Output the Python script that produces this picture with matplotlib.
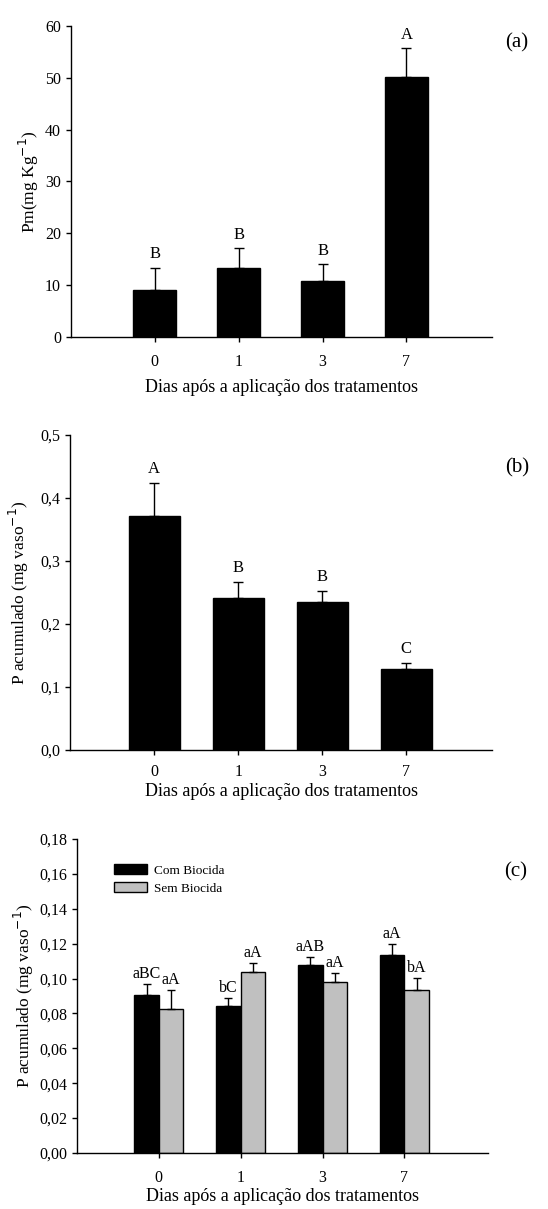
import matplotlib
matplotlib.use("Agg")
import matplotlib.pyplot as plt
import numpy as np

plt.rcParams['font.family'] = ['Liberation Serif', 'DejaVu Serif']

dias = ['0', '1', '3', '7']

# (a) Pm
pm = [9.0, 13.4, 10.8, 50.1]
pm_err = [4.4, 3.7, 3.3, 5.6]
pm_let = ['B', 'B', 'B', 'A']

# (b) P acumulado
pac = [0.372, 0.241, 0.235, 0.129]
pac_err = [0.052, 0.025, 0.017, 0.009]
pac_let = ['A', 'B', 'B', 'C']

# (c) com / sem biocida
com = [0.0904, 0.0841, 0.1080, 0.1137]
com_err = [0.0067, 0.0048, 0.0042, 0.0061]
com_let = ['aBC', 'bC', 'aAB', 'aA']
sem = [0.0827, 0.1036, 0.0978, 0.0936]
sem_err = [0.0109, 0.0053, 0.0054, 0.0067]
sem_let = ['aA', 'aA', 'aA', 'bA']

xlab = 'Dias após a aplicação dos tratamentos'
fs = 11.5

fig = plt.figure(figsize=(5.48, 12.09), dpi=100)
ax1 = fig.add_axes([0.129, 0.7213, 0.769, 0.2572])
ax2 = fig.add_axes([0.128, 0.3797, 0.770, 0.2605])
ax3 = fig.add_axes([0.1405, 0.0463, 0.750, 0.2597])

x = np.arange(len(dias))


def style(ax, xpad, lpad, ylx):
    for s in ['top', 'right']:
        ax.spines[s].set_visible(False)
    ax.spines['left'].set_linewidth(1.0)
    ax.spines['bottom'].set_linewidth(1.0)
    ax.tick_params(direction='out', length=3.5, width=1, labelsize=fs)
    ax.tick_params(axis='x', pad=xpad)
    ax.set_xticks(x)
    ax.set_xticklabels(dias)
    ax.set_xlim(-1, 4.02)
    ax.set_xlabel(xlab, fontsize=13, labelpad=lpad)
    ax.yaxis.set_label_coords(ylx, 0.5)


# panel a
ax1.bar(x, pm, 0.52, color='black', edgecolor='black',
        yerr=[np.zeros(4), pm_err], capsize=3.5, error_kw=dict(elinewidth=1, capthick=1))
for i in range(4):
    ax1.text(x[i], pm[i] + pm_err[i] + 1.0, pm_let[i], ha='center', va='bottom', fontsize=12)
ax1.set_ylim(0, 60)
ax1.set_yticks(np.arange(0, 61, 10))
ax1.set_ylabel('Pm(mg Kg$^{-1}$)', fontsize=12.5)
style(ax1, 9, 6, -0.071)
ax1.text(1.03, 0.93, '(a)', transform=ax1.transAxes, fontsize=15)

# panel b
ax2.bar(x, pac, 0.61, color='black', edgecolor='black',
        yerr=[np.zeros(4), pac_err], capsize=3.5, error_kw=dict(elinewidth=1, capthick=1))
for i in range(4):
    ax2.text(x[i], pac[i] + pac_err[i] + 0.01, pac_let[i], ha='center', va='bottom', fontsize=12)
ax2.set_ylim(0, 0.5)
ax2.set_yticks(np.arange(0, 0.51, 0.1))
ax2.set_yticklabels([('%.1f' % v).replace('.', ',') for v in np.arange(0, 0.51, 0.1)])
ax2.set_ylabel('P acumulado (mg vaso$^{-1}$)', fontsize=12.5)
style(ax2, 6.5, 2.5, -0.092)
ax2.text(1.03, 0.88, '(b)', transform=ax2.transAxes, fontsize=15)

# panel c
w = 0.3
ax3.bar(x - w / 2, com, w, color='black', edgecolor='black', label='Com Biocida',
        yerr=[np.zeros(4), com_err], capsize=3, error_kw=dict(elinewidth=1, capthick=1))
ax3.bar(x + w / 2, sem, w, color='#c0c0c0', edgecolor='black', label='Sem Biocida',
        yerr=[np.zeros(4), sem_err], capsize=3, error_kw=dict(elinewidth=1, capthick=1))
for i in range(4):
    ax3.text(x[i] - w / 2, com[i] + com_err[i] + 0.0012, com_let[i], ha='center', va='bottom', fontsize=11.5)
    ax3.text(x[i] + w / 2, sem[i] + sem_err[i] + 0.0012, sem_let[i], ha='center', va='bottom', fontsize=11.5)
ax3.set_ylim(0, 0.18)
ax3.set_yticks(np.arange(0, 0.181, 0.02))
ax3.set_yticklabels([('%.2f' % v).replace('.', ',') for v in np.arange(0, 0.181, 0.02)])
ax3.set_ylabel('P acumulado (mg vaso$^{-1}$)', fontsize=12.5)
style(ax3, 9, 1, -0.099)
ax3.legend(loc='upper left', bbox_to_anchor=(0.09, 0.92), frameon=False, fontsize=9.5,
           handlelength=2.5, handleheight=0.8, handletextpad=0.5, labelspacing=0.4,
           borderaxespad=0, borderpad=0)
ax3.text(1.04, 0.88, '(c)', transform=ax3.transAxes, fontsize=15)

fig.savefig('out.png', dpi=100)
